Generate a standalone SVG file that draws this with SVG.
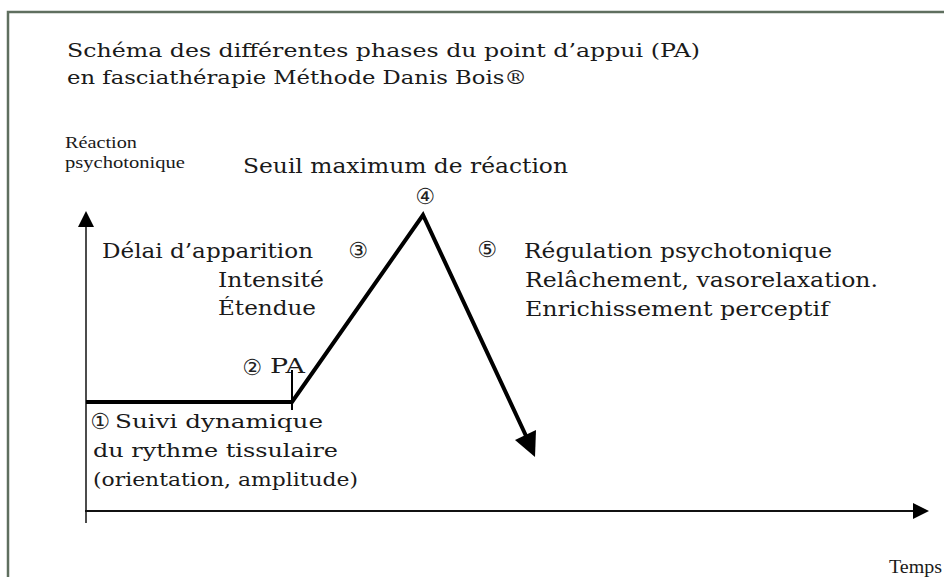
<svg xmlns="http://www.w3.org/2000/svg" width="944" height="577" viewBox="0 0 944 577">
<style>
.tw{font-family:"DejaVu Serif","Liberation Serif",serif;fill:#1a1a1a}
.tm{font-family:"Liberation Serif","Times New Roman",serif;fill:#1a1a1a}
.cn{font-family:"DejaVu Sans","Noto Sans CJK JP",sans-serif;fill:#222;text-anchor:middle}
.ax{stroke:#111;fill:none}
.cv{stroke:#000;stroke-width:4;fill:none;stroke-linejoin:miter}
</style>
<rect width="944" height="577" fill="#ffffff"/>
<path d="M8 577 V12 H944" fill="none" stroke="#5f6f5f" stroke-width="2.5"/>
<g id="title">
<text class="tw" x="67" y="57" font-size="19" textLength="633" lengthAdjust="spacingAndGlyphs">Schéma des différentes phases du point d’appui  (PA)</text>
<text class="tw" x="67" y="84" font-size="19" textLength="460" lengthAdjust="spacingAndGlyphs">en fasciathérapie Méthode Danis Bois®</text>
</g>
<g id="axes">
<g id="y-axis">
<line class="ax" x1="86" y1="225" x2="86" y2="523" stroke-width="1.5"/>
<polygon points="86,211 78,227 94,227" fill="#000"/>
<text class="tm" x="65" y="148" font-size="17" textLength="72" lengthAdjust="spacingAndGlyphs">Réaction</text>
<text class="tm" x="65" y="168" font-size="17" textLength="120" lengthAdjust="spacingAndGlyphs">psychotonique</text>
</g>
<g id="x-axis">
<line class="ax" x1="85" y1="511" x2="915" y2="511" stroke-width="2"/>
<polygon points="929,511 913,503 913,519" fill="#000"/>
<text class="tm" x="889" y="573" font-size="19" textLength="53" lengthAdjust="spacingAndGlyphs">Temps</text>
</g>
</g>
<g id="connectors">
<path class="cv" d="M86 402 H292 L423 215 L527 438"/>
<polygon points="535,457 515,440 536,430" fill="#000"/>
<line x1="292" y1="370" x2="292" y2="410" stroke="#000" stroke-width="2"/>
</g>
<g id="phase1">
<text class="cn" x="100" y="429" font-size="22">①</text>
<text class="tw" x="115" y="428" font-size="19" textLength="208" lengthAdjust="spacingAndGlyphs">Suivi dynamique</text>
<text class="tw" x="93" y="457" font-size="19" textLength="245" lengthAdjust="spacingAndGlyphs">du rythme tissulaire</text>
<text class="tw" x="93" y="486" font-size="19" textLength="265" lengthAdjust="spacingAndGlyphs">(orientation, amplitude)</text>
</g>
<g id="phase2">
<text class="cn" x="252" y="375" font-size="22">②</text>
<text class="tw" x="270" y="373" font-size="20" textLength="35" lengthAdjust="spacingAndGlyphs">PA</text>
</g>
<g id="phase3">
<text class="cn" x="358" y="258" font-size="22">③</text>
<text class="tw" x="102" y="258" font-size="20" textLength="211" lengthAdjust="spacingAndGlyphs">Délai d’apparition</text>
<text class="tw" x="218" y="287" font-size="20" textLength="106" lengthAdjust="spacingAndGlyphs">Intensité</text>
<text class="tw" x="218" y="315" font-size="20" textLength="98" lengthAdjust="spacingAndGlyphs">Étendue</text>
</g>
<g id="phase4">
<text class="cn" x="425" y="204" font-size="22">④</text>
<text class="tw" x="243" y="173" font-size="21" textLength="325" lengthAdjust="spacingAndGlyphs">Seuil maximum de réaction</text>
</g>
<g id="phase5">
<text class="cn" x="487" y="257" font-size="22">⑤</text>
<text class="tw" x="524" y="258" font-size="20" textLength="308" lengthAdjust="spacingAndGlyphs">Régulation psychotonique</text>
<text class="tw" x="525" y="287" font-size="20" textLength="353" lengthAdjust="spacingAndGlyphs">Relâchement, vasorelaxation.</text>
<text class="tw" x="525" y="316" font-size="20" textLength="304" lengthAdjust="spacingAndGlyphs">Enrichissement perceptif</text>
</g>
</svg>
